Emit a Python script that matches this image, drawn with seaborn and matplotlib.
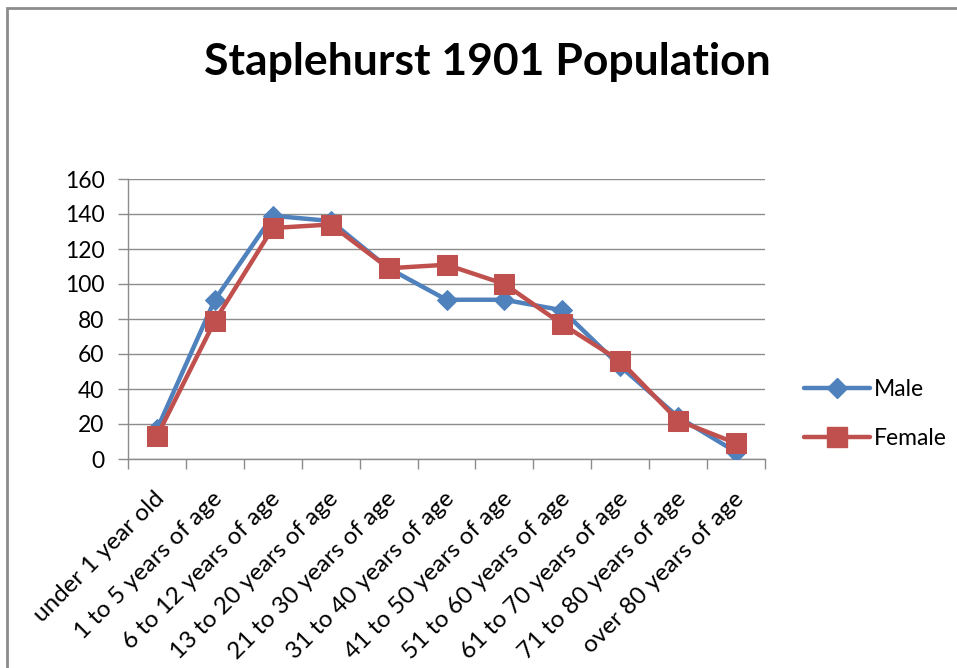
import pandas as pd
import seaborn as sns
import matplotlib.pyplot as plt
import matplotlib.transforms as mtransforms
from matplotlib.lines import Line2D
from matplotlib.patches import Rectangle

# ---------------------------------------------------------
# Data
# ---------------------------------------------------------
age_groups = [
    "under 1 year old", "1 to 5 years of age", "6 to 12 years of age",
    "13 to 20 years of age", "21 to 30 years of age", "31 to 40 years of age",
    "41 to 50 years of age", "51 to 60 years of age", "61 to 70 years of age",
    "71 to 80 years of age", "over 80 years of age",
]
male = [17, 91, 139, 136, 109, 91, 91, 85, 53, 24, 4]
female = [13, 79, 132, 134, 109, 111, 100, 77, 56, 22, 9]

series_names = ["Male", "Female"]
colors = {"Male": "#4F81BD", "Female": "#C0504D"}
markers = {"Male": "D", "Female": "s"}
msizes = {"Male": 10, "Female": 14}

df = pd.DataFrame({
    "pos": list(range(len(age_groups))) * 2,
    "value": male + female,
    "series": ["Male"] * len(male) + ["Female"] * len(female),
})

sns.set_style("white")
plt.rcParams["font.family"] = ["Lato", "DejaVu Sans"]
plt.rcParams["text.color"] = "black"
plt.rcParams["xtick.labelcolor"] = "black"
plt.rcParams["ytick.labelcolor"] = "black"

fig = plt.figure(figsize=(9.57, 6.68), dpi=100)
ax = fig.add_axes([128 / 957, 1 - 459 / 668, (765 - 128) / 957, (459 - 179) / 668])

# outer chart border (left/top visible, runs off the right/bottom edges)
fig.patches.append(Rectangle((7 / 957, -0.05), 1.2, 1 - 8 / 668 + 0.05,
                             transform=fig.transFigure, fill=False,
                             edgecolor="#8c8c8c", linewidth=2, zorder=0))

for name in series_names:
    sub = df[df["series"] == name]
    sns.lineplot(data=sub, x="pos", y="value", ax=ax, color=colors[name],
                 linewidth=3.2, marker=markers[name], markersize=msizes[name],
                 markeredgecolor=colors[name], legend=False, zorder=3)

ax.set_xlim(-0.5, len(age_groups) - 0.5)
ax.set_ylim(0, 160)
ax.set_yticks(range(0, 161, 20))
ax.grid(axis="y", color="#8c8c8c", linewidth=1)
ax.set_axisbelow(True)

ax.set_xticks(range(len(age_groups)))
ax.set_xticklabels(age_groups, rotation=45, ha="right", rotation_mode="anchor",
                   fontsize=17.5)
ax.tick_params(axis="x", which="major", length=0, pad=21)
shift = mtransforms.ScaledTranslation(-3 / 100, 0, fig.dpi_scale_trans)
for lbl in ax.get_xticklabels():
    lbl.set_transform(lbl.get_transform() + shift)
ax.set_xticks([i - 0.5 for i in range(len(age_groups) + 1)], minor=True)
ax.tick_params(axis="x", which="minor", length=7, color="#8c8c8c", width=1,
               direction="out", bottom=True)
ax.tick_params(axis="y", length=7, color="#8c8c8c", width=1, direction="out",
               left=True, labelsize=16.5, pad=10)

for side in ["top", "right"]:
    ax.spines[side].set_visible(False)
for side in ["left", "bottom"]:
    ax.spines[side].set_color("#8c8c8c")
    ax.spines[side].set_linewidth(1)

ax.set_xlabel("")
ax.set_ylabel("")

fig.text(487 / 957, 1 - 62 / 668, "Staplehurst 1901 Population",
         ha="center", va="center", fontsize=32, fontweight="bold")

handles = [Line2D([0], [0], color=colors[n], linewidth=3.2, marker=markers[n],
                  markersize=msizes[n], markeredgecolor=colors[n])
           for n in series_names]
fig.legend(handles, series_names, loc="center left",
           bbox_to_anchor=(783 / 957, 1 - 414 / 668), frameon=False,
           fontsize=16.5, handlelength=2.9, labelspacing=1.2, handletextpad=0.15)

plt.savefig("out.png", dpi=100)
plt.close()
